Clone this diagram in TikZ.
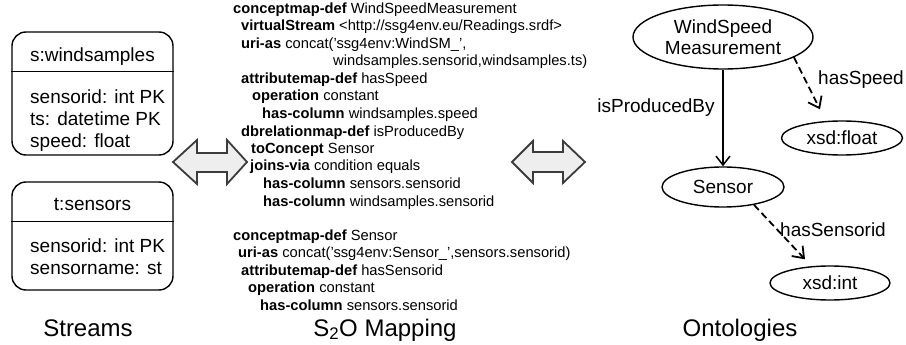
\documentclass[tikz,border=0pt]{standalone}
\usepackage{fontspec}
\setmainfont{Liberation Sans}
\usetikzlibrary{arrows.meta,shapes.geometric}
\definecolor{arrowgray}{HTML}{3C3C3C}
\definecolor{arrowfill}{HTML}{EEEEEE}
\newcommand{\sq}{{\char"0027}}
\begin{document}
\begin{tikzpicture}[x=1pt,y=-1pt,
  mapl/.style={anchor=base west, inner sep=0pt, font=\fontsize{14.7}{17.5}\selectfont},
  boxtxt/.style={anchor=base west, inner sep=0pt, font=\fontsize{19}{21}\selectfont},
  hdrtxt/.style={anchor=base, inner sep=0pt, font=\fontsize{19}{21}\selectfont},
  titletxt/.style={anchor=base, inner sep=0pt, font=\fontsize{24}{28}\selectfont},
  tbl/.style={draw, line width=1.4pt, rounded corners=14pt, minimum width=161pt, inner sep=0pt},
  onto/.style={ellipse, draw, line width=1.4pt, inner sep=0pt, align=center, font=\fontsize{19}{21}\selectfont},
  bigarrow/.style={draw=arrowgray, fill=arrowfill, line width=1.8pt, line join=miter},
  rel/.style={-{Straight Barb[length=9pt,width=14pt,line width=1.5pt]}, line width=1.5pt},
  dashedrel/.style={-{Straight Barb[length=10pt,width=15pt,line width=1.8pt]}, line width=1.8pt, dash pattern=on 7pt off 4pt},
  lbl/.style={inner sep=0pt, font=\fontsize{19}{21}\selectfont}
]
\useasboundingbox (0,0) rectangle (906,345);

% --- Streams ---
\node[tbl, minimum height=123pt] (ws) at (92.5,93.5) {};
\draw[line width=1.4pt] ([yshift=-40pt]ws.north west) -- ([yshift=-40pt]ws.north east);
\node[hdrtxt] (wsh) at (92.5,62) {s:windsamples};
\node[boxtxt] (ws1) at (30,104) {sensorid: int PK};
\node[boxtxt] (ws2) at (30,125.5) {ts: datetime PK};
\node[boxtxt] (ws3) at (30,147) {speed: float};

\node[tbl, minimum height=108pt] (se) at (92.5,236) {};
\draw[line width=1.4pt] ([yshift=-40pt]se.north west) -- ([yshift=-40pt]se.north east);
\node[hdrtxt] (seh) at (92.5,210) {t:sensors};
\node[boxtxt] (se1) at (30,252) {sensorid: int PK};
\node[boxtxt] (se2) at (30,274) {sensorname: st};

\node[titletxt] (t1) at (88,336) {Streams};

% --- big double arrows ---
\draw[bigarrow] (173,162) -- (197,140) -- (197,153) -- (227,153) -- (227,140) -- (247,162)
  -- (227,184) -- (227,172) -- (197,172) -- (197,184) -- cycle;
\draw[bigarrow] (512,162) -- (533,141) -- (533,152) -- (563,152) -- (563,141) -- (585,162)
  -- (563,183) -- (563,172) -- (533,172) -- (533,183) -- cycle;

% --- Mapping ---
\node[mapl] (m1) at (233,13.5) {\textbf{conceptmap-def} WindSpeedMeasurement};
\node[mapl] (m2) at (241,31) {\textbf{virtualStream} <http://ssg4env.eu/Readings.srdf>};
\node[mapl] (m3) at (241,48.5) {\textbf{uri-as} concat(\sq ssg4env:WindSM\_\sq,};
\node[mapl] (m4) at (333,66) {windsamples.sensorid,windsamples.ts)};
\node[mapl] (m5) at (241,83.5) {\textbf{attributemap-def} hasSpeed};
\node[mapl] (m6) at (252,101) {\textbf{operation} constant};
\node[mapl] (m7) at (262,118.5) {\textbf{has-column} windsamples.speed};
\node[mapl] (m8) at (241,136) {\textbf{dbrelationmap-def} isProducedBy};
\node[mapl] (m9) at (251,153.5) {\textbf{toConcept} Sensor};
\node[mapl] (m10) at (250,171) {\textbf{joins-via} condition equals};
\node[mapl] (m11) at (263,188.5) {\textbf{has-column} sensors.sensorid};
\node[mapl] (m12) at (263,206) {\textbf{has-column} windsamples.sensorid};
\node[mapl] (m13) at (233,240) {\textbf{conceptmap-def} Sensor};
\node[mapl] (m14) at (238,257.5) {\textbf{uri-as} concat(\sq ssg4env:Sensor\_\sq,sensors.sensorid)};
\node[mapl] (m15) at (241,275) {\textbf{attributemap-def} hasSensorid};
\node[mapl] (m16) at (248,292.5) {\textbf{operation} constant};
\node[mapl] (m17) at (260,310) {\textbf{has-column} sensors.sensorid};

\node[titletxt] (t2) at (385,336) {S\textsubscript{2}O Mapping};

% --- Ontologies ---
\node[onto, minimum width=180pt, minimum height=64pt] (wsm) at (723,37) {WindSpeed\\Measurement};
\node[onto, minimum width=122pt, minimum height=40pt] (sensor) at (723,187) {Sensor};
\node[onto, minimum width=121pt, minimum height=34pt] (float) at (842,138) {xsd:float};
\node[onto, minimum width=120pt, minimum height=34pt] (int) at (830,283) {xsd:int};

\draw[rel] (wsm.south) -- (sensor.north);
\draw[dashedrel] (wsm.-16) -- ([xshift=-22pt,yshift=11pt]float.north);
\draw[dashedrel] (sensor.-30) -- ([xshift=-25pt,yshift=6pt]int.north);

\node[lbl] (l1) at (656,108) {isProducedBy};
\node[lbl] (l2) at (861,80) {hasSpeed};
\node[lbl] (l3) at (833,230) {hasSensorid};

\node[titletxt] (t3) at (740,336) {Ontologies};
\end{tikzpicture}
\end{document}
